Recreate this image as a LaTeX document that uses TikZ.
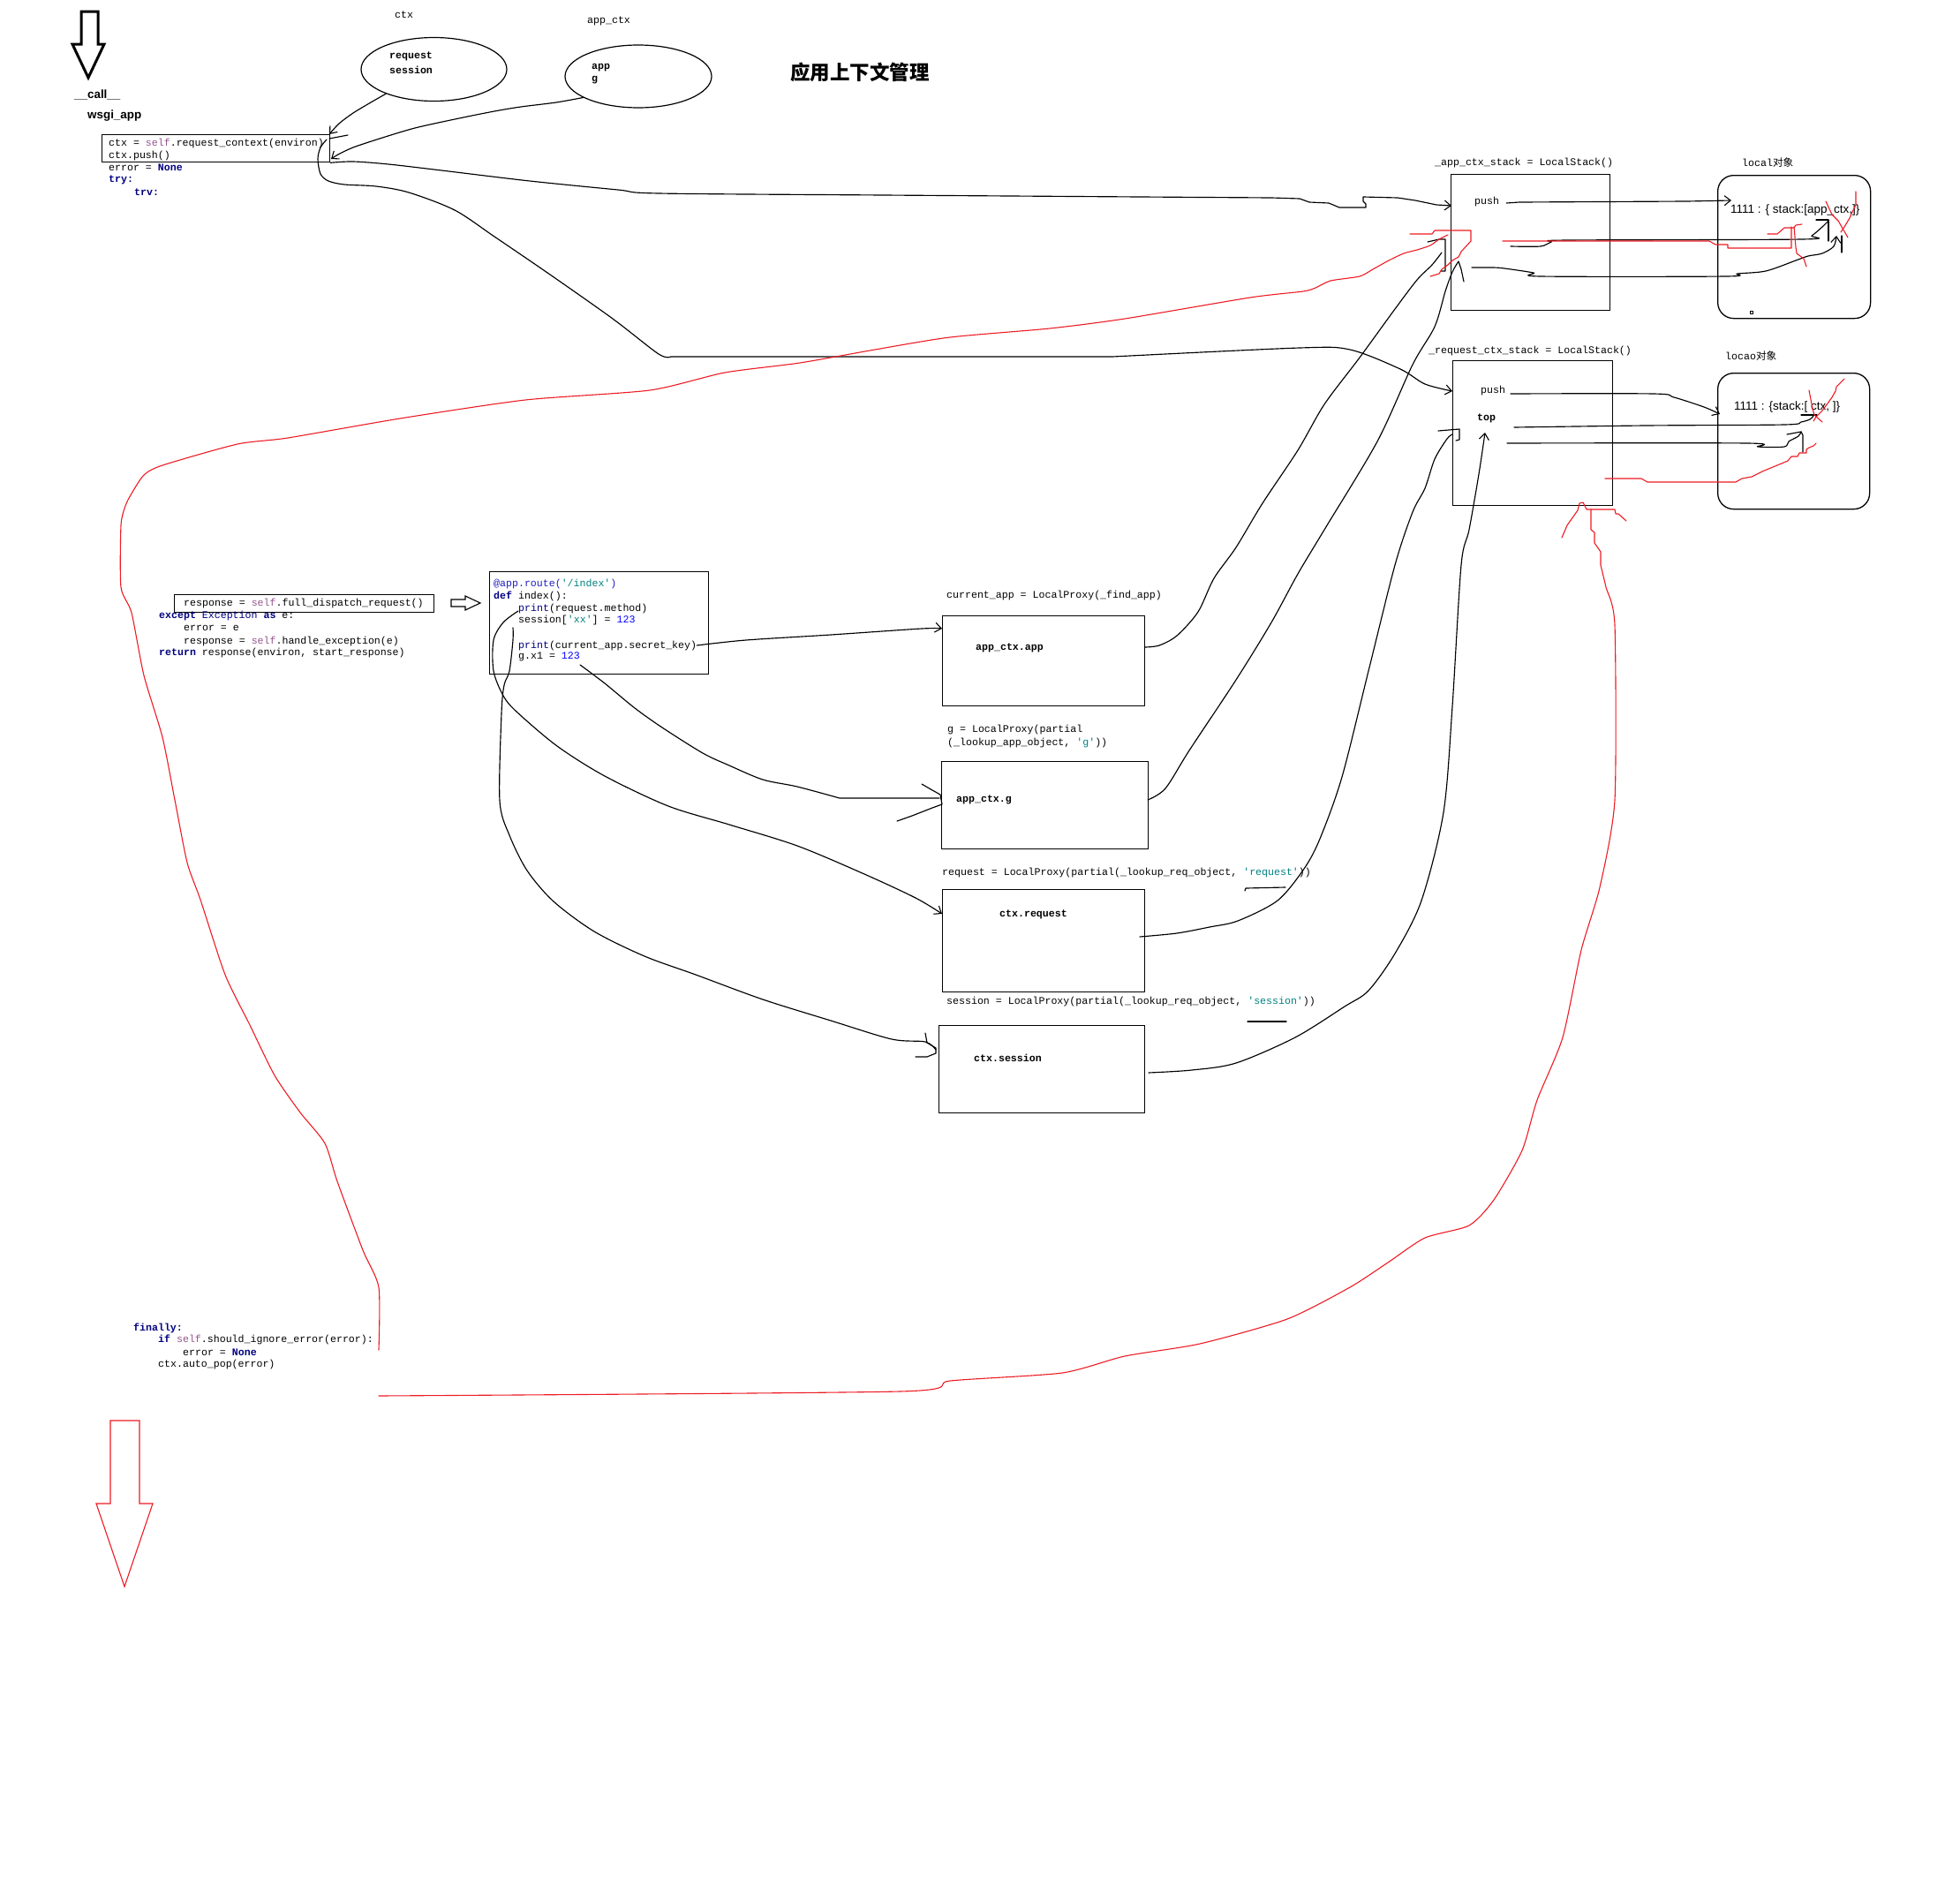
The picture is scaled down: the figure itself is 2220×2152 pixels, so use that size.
\documentclass[tikz,border=0pt]{standalone}
\usepackage{fontspec}
\setmainfont{Liberation Sans}
\setmonofont{Liberation Mono}
\newfontfamily\cjk{Noto Sans CJK SC}
\usetikzlibrary{arrows.meta,shapes.geometric}
\definecolor{kwc}{HTML}{000080}
\definecolor{selfc}{HTML}{94558D}
\definecolor{numc}{HTML}{0000FF}
\definecolor{strc}{HTML}{008080}
\definecolor{decoc}{HTML}{2020C0}
\definecolor{redl}{HTML}{ED1C24}
\newcommand\ckw[1]{\textcolor{kwc}{\bfseries #1}}
\newcommand\cself{\textcolor{selfc}{self}}
\newcommand\cnum[1]{\textcolor{numc}{#1}}
\newcommand\cstr[1]{\textcolor{strc}{#1}}
\newcommand\cprint{\textcolor{kwc}{print}}
\tikzset{
  code/.style={anchor=west, inner sep=0pt, font=\ttfamily\fontsize{11.6}{13}\selectfont},
  bcode/.style={anchor=west, inner sep=0pt, font=\ttfamily\bfseries\fontsize{11.6}{13}\selectfont},
  ssf/.style={anchor=west, inner sep=0pt, font=\fontsize{13.5}{15}\selectfont},
  bsf/.style={anchor=west, inner sep=0pt, font=\bfseries\fontsize{13.4}{15}\selectfont},
  ln/.style={line width=1.15pt, black, line cap=round, line join=round},
  rl/.style={line width=1.1pt, redl, line cap=round, line join=round},
  harrow/.style={-{Straight Barb[length=7pt,width=11pt,line width=1.1pt]}},
  box/.style={draw, line width=1.3pt, inner sep=0pt, anchor=north west},
  oval/.style={draw, ellipse, line width=1.2pt, inner sep=0pt},
}
\begin{document}
\begin{tikzpicture}[x=1pt,y=-1pt]
\useasboundingbox[fill=white] (0,0) rectangle (2220,2152);

% ---------- top-left arrow and labels ----------
\draw[line width=3pt, line join=miter] (92,13) -- (111,13) -- (111,50) -- (118,50) -- (100,88) -- (82,50) -- (92,50) -- cycle;
\node[bsf] (calltxt) at (84,107) {\_\_call\_\_};
\node[bsf] (wsgitxt) at (99,131) {wsgi\_app};

% ---------- wsgi code ----------
\node[box, minimum width=258pt, minimum height=31pt] (wsgibox) at (115,152) {};
\node[code] (w1) at (123,162) {ctx = \cself.request\_context(environ)};
\node[code] (w2) at (123,176) {ctx.push()};
\node[code] (w3) at (123,190) {error = \ckw{None}};
\node[code] (w4) at (123,204) {\ckw{try:}};
\node[code] (w5) at (152,218) {\ckw{trv:}};

% ---------- ellipses ----------
\node[code] (ctxlbl) at (447,17) {ctx};
\node[oval, minimum width=165pt, minimum height=72pt] (ctxell) at (491.5,78.5) {};
\node[bcode] (rs1) at (441,64) {request};
\node[bcode] (rs2) at (441,79) {session};
\node[code] (appctxlbl) at (665,24) {app\_ctx};
\node[oval, minimum width=166pt, minimum height=71pt] (appell) at (723,86.5) {};
\node[bcode] (ag1) at (670,77) {app};
\node[bcode] (ag2) at (670,91) {g};

\node[anchor=west, inner sep=0pt, font=\cjk\bfseries\fontsize{22.5}{24}\selectfont] (title) at (895,82) {应用上下文管理};

% ---------- response code ----------
\node[box, minimum width=294pt, minimum height=20pt] (respbox) at (197,673) {};
\node[code] (r1) at (208,683) {response = \cself.full\_dispatch\_request()};
\node[code] (r2) at (180,697) {\ckw{except} \textcolor{kwc}{Exception} \ckw{as} e:};
\node[code] (r3) at (208,711) {error = e};
\node[code] (r4) at (208,726) {response = \cself.handle\_exception(e)};
\node[code] (r5) at (180,739) {\ckw{return} response(environ, start\_response)};

\draw[line width=1.1pt, line join=miter] (511,679) -- (527,679) -- (527,675) -- (544,683) -- (527,691) -- (527,687) -- (511,687) -- cycle;

% ---------- index code ----------
\node[box, minimum width=248pt, minimum height=116pt] (idxbox) at (554,647) {};
\node[code] (i1) at (559,661) {\textcolor{decoc}{@app.route(}\cstr{'/index'}\textcolor{decoc}{)}};
\node[code] (i2) at (559,675) {\ckw{def} index():};
\node[code] (i3) at (587,689) {\cprint(request.method)};
\node[code] (i4) at (587,702) {session[\cstr{'xx'}] = \cnum{123}};
\node[code] (i5) at (587,731) {\cprint(current\_app.secret\_key)};
\node[code] (i6) at (587,744) {g.x1 = \cnum{123}};

% ---------- finally code ----------
\node[code] (f1) at (151,1504) {\ckw{finally:}};
\node[code] (f2) at (179,1517) {\ckw{if} \cself.should\_ignore\_error(error):};
\node[code] (f3) at (207,1532) {error = \ckw{None}};
\node[code] (f4) at (179,1545) {ctx.auto\_pop(error)};

% ---------- proxies ----------
\node[code] (m1) at (1072,674) {current\_app = LocalProxy(\_find\_app)};
\node[box, minimum width=229pt, minimum height=102pt] (appbox) at (1067,697) {};
\node[bcode] (appt) at (1105,734) {app\_ctx.app};
\node[code] (m2) at (1073,826) {g = LocalProxy(partial};
\node[code] (m3) at (1073,841) {(\_lookup\_app\_object, \cstr{'g'}))};
\node[box, minimum width=234pt, minimum height=99pt] (gbox) at (1066,862) {};
\node[bcode] (gt) at (1083,906) {app\_ctx.g};
\node[code] (m4) at (1067,988) {request = LocalProxy(partial(\_lookup\_req\_object, \cstr{'request'}))};
\node[box, minimum width=229pt, minimum height=116pt] (reqbox) at (1067,1007) {};
\node[bcode] (reqt) at (1132,1036) {ctx.request};
\node[code] (m5) at (1072,1134) {session = LocalProxy(partial(\_lookup\_req\_object, \cstr{'session'}))};
\node[box, minimum width=233pt, minimum height=99pt] (sesbox) at (1063,1161) {};
\node[bcode] (sest) at (1103,1198) {ctx.session};

% ---------- stacks ----------
\node[code] (s1) at (1625,184) {\_app\_ctx\_stack = LocalStack()};
\node[box, minimum width=180pt, minimum height=154pt] (stk1) at (1643,197) {};
\node[code] (p1) at (1670,228) {push};
\node[code] (l1) at (1973,184) {local{\cjk 对象}};
\node[box, rounded corners=18pt, minimum width=173pt, minimum height=162pt] (loc1) at (1945,198) {};
\node[ssf] (t1) at (1960,238) {1111 : \{ stack:[app\_ctx,]\}};
\node[draw, line width=0.8pt, minimum size=3pt, inner sep=0pt] (dot) at (1984,354) {};

\node[code] (s2) at (1618,397) {\_request\_ctx\_stack = LocalStack()};
\node[box, minimum width=181pt, minimum height=164pt] (stk2) at (1645,408) {};
\node[code] (p2) at (1677,442) {push};
\node[bcode] (top) at (1673,474) {top};
\node[code] (l2) at (1954,403) {locao{\cjk 对象}};
\node[box, rounded corners=18pt, minimum width=172pt, minimum height=154pt] (loc2) at (1945,422) {};
\node[ssf] (t2) at (1964,461) {1111 : \{stack:[ ctx, ]\}};

% ---------- black connectors, top ----------
\draw[ln,harrow] plot[smooth] coordinates {(ctxell.207) (420,116) (400,128) (384,140) (373,152)};
\draw[ln] (373,157) -- (394,153);
\draw[ln,harrow] plot[smooth] coordinates {(appell.201) (630,116) (590,121) (560,126) (520,134) (470,145) (430,157) (400,167) (383,175) (375,180)};
\draw[ln,harrow] plot[smooth] coordinates {(wsgibox.south east) (400,183) (440,186) (500,193) (600,205) (700,215) (746,219) (1000,221) (1440,224)}
  -- (1472,225) -- (1483,229) -- (1505,230) -- (1517,235) -- (1547,235) -- (1547,231) -- (1544,228) -- (1544,223) -- (1583,224) -- (1603,227) -- (1627,232) -- (1644,233);
\draw[ln,harrow] plot[smooth] coordinates {(370,158) (363,167) (360,180) (363,197) (372,205) (390,209) (426,211) (463,218) (515,238) (560,268) (623,311) (694,361) (746,401) (760,404)}
  -- plot[smooth] coordinates {(1260,404) (1472,394) (1529,396) (1586,418) (1614,435) (1645,443)};

% ---------- index -> proxies ----------
\draw[ln,harrow] plot[smooth] coordinates {(i5.east) (845,725) (941,719) (1044,712) (1067,712)};
\draw[ln] plot[smooth] coordinates {(657,753) (685,774) (719,802) (750,824) (796,853) (826,867) (864,883) (903,891) (951,904)} -- (1064,904);
\draw[ln] (1044,888) -- (1056,895) -- (1065,900) -- (1067,911) -- (1056,915) -- (1033,924) -- (1016,930);
\draw[ln,harrow] plot[smooth] coordinates {(587,692) (570,705) (559,725) (559,760) (570,788) (585,806) (631,845) (685,879) (757,913) (826,934) (903,958) (979,990) (1037,1017) (1067,1035)};
\draw[ln] plot[smooth] coordinates {(581,711) (581,725) (577,760) (571,776) (568,808) (566,907) (577,946) (597,986) (627,1021) (673,1055) (730,1083) (788,1104) (864,1132) (941,1156) (1010,1177) (1048,1180) (1060,1189)};
\draw[ln] (1048,1170) -- (1050,1181) -- (1060,1187) -- (1060,1193) -- (1050,1197) -- (1037,1197);

% ---------- proxies -> stacks ----------
\draw[ln] plot[smooth] coordinates {(1297,733) (1313,731) (1333,720) (1357,693) (1375,655) (1400,620) (1430,570) (1470,510) (1500,458) (1540,405) (1580,350) (1605,317) (1622,300) (1633,286)};
\draw[ln] (1617,274) -- (1630,271) -- (1637,271) -- (1637,307) -- (1632,307);
\draw[ln] plot[smooth] coordinates {(1300,906) (1320,893) (1347,850) (1400,770) (1440,705) (1470,650) (1500,600) (1560,500) (1600,413) (1625,370) (1637,330) (1645,308) (1652,296)} -- (1655,305) -- (1658,319);
\draw[ln] plot[smooth] coordinates {(1291,1061) (1333,1057) (1370,1050) (1402,1043) (1447,1020) (1477,984) (1495,950) (1520,880) (1550,760) (1580,640) (1600,580) (1614,553) (1625,520) (1639,497) (1645,492)};
\draw[ln] (1629,488) -- (1653,486) -- (1653,498) -- (1649,499);
\draw[ln,harrow] plot[smooth] coordinates {(1301,1215) (1350,1212) (1400,1204) (1467,1175) (1523,1140) (1550,1122) (1580,1080) (1610,1020) (1635,920) (1645,800) (1655,640) (1664,600) (1675,537) (1682,490)};
\draw[ln] (1410,1009) -- (1411,1006) -- (1456,1005);
\draw[ln] (1413,1157) -- (1457,1157);

% ---------- stacks -> local ----------
\draw[ln,harrow] (p1.east) ++(8,2) -- (1721,229) -- (1911,228) -- (1961,227);
\draw[ln] plot[smooth] coordinates {(1711,279) (1745,279) (1757,274) (1775,272) (2041,271) (2052,267) (2064,257) (2071,250)};
\draw[ln] (2057,249) -- (2071,249) -- (2071,273);
\draw[ln,harrow] plot[smooth] coordinates {(1667,303) (1691,303) (1704,304) (1737,309) (1745,313) (1955,313) (1968,310) (2000,307) (2034,295) (2048,290) (2064,287) (2077,279) (2080,267)};
\draw[ln] (2086,267) -- (2086,286);
\draw[ln,harrow] plot[smooth] coordinates {(1711,446) (1873,446) (1896,450) (1930,461) (1948,469)};
\draw[ln] plot[smooth] coordinates {(1715,484) (1864,482) (2021,481) (2040,478) (2050,475) (2054,471)};
\draw[ln] (2040,470) -- (2058,470);
\draw[ln] plot[smooth] coordinates {(1707,502) (1979,502) (1991,506) (2021,506) (2026,500) (2037,494) (2040,489)};
\draw[ln] (2024,492) -- (2040,489) -- (2042,493) -- (2042,512);

% ---------- red lines ----------
\draw[rl] plot[smooth, tension=0.4] coordinates {(1640,266) (1630,271) (1620,278) (1605,283) (1590,287) (1573,295) (1555,305) (1540,313) (1507,318) (1490,326) (1476,330) (1416,337) (1274,361) (1189,372) (1076,382) (991,396) (906,411) (821,422) (736,442) (595,453) (453,474) (326,496) (269,503) (184,527) (163,538) (149,559) (142,573) (137,595) (137,665) (149,694) (163,765) (184,835) (198,906) (212,977) (227,1019) (255,1104) (283,1161) (311,1218) (340,1260) (368,1295) (382,1338) (411,1416) (429,1458) (429,1529)};
\draw[rl] (1597,265) -- (1622,265) -- (1625,261) -- (1666,261) -- (1666,273) -- (1655,285) -- (1652,291) -- (1645,295) -- (1640,300) -- (1633,305) -- (1630,310) -- (1620,313);
\draw[rl] plot[smooth, tension=0.4] coordinates {(429,1581) (1019,1576) (1076,1564) (1203,1555) (1274,1536) (1359,1522) (1458,1494) (1529,1458) (1572,1430) (1614,1402) (1664,1388) (1692,1359) (1724,1303) (1741,1246) (1770,1175) (1791,1076) (1812,1005) (1829,906) (1829,708) (1819,665) (1813,640)} -- (1813,625) -- (1806,615) -- (1806,603) -- (1802,600) -- (1802,577);
\draw[rl] (1769,609) -- (1775,595) -- (1787,578) -- (1789,570) -- (1793,569) -- (1797,577) -- (1829,577) -- (1830,582) -- (1833,582) -- (1842,590);
\draw[rl] (1702,273) -- (1936,273) -- (1943,277) -- (1957,277) -- (1957,281) -- (2029,281) -- (2029,257);
\draw[rl] (2002,265) -- (2013,265) -- (2021,258) -- (2032,258) -- (2034,255) -- (2041,254);
\draw[rl] (2032,257) -- (2034,280) -- (2035,287) -- (2043,293) -- (2046,302);
\draw[rl] (2102,217) -- (2102,232) -- (2098,240) -- (2095,247) -- (2089,257) -- (2085,263);
\draw[rl] (2068,228) -- (2075,243) -- (2082,250) -- (2093,269);
\draw[rl] (1818,542) -- (1859,542) -- (1866,546) -- (1966,546) -- (1973,542) -- (1984,540) -- (1996,534) -- (2025,522) -- (2029,517) -- (2036,517) -- (2038,513) -- (2046,513) -- (2046,509) -- (2049,507) -- (2054,505) -- (2057,502);
\draw[rl] (2049,442) -- (2053,463) -- (2055,470) -- (2064,478);
\draw[rl] (2089,429) -- (2080,438) -- (2079,443) -- (2075,450) -- (2070,457) -- (2064,465) -- (2057,472) -- (2054,477);

% red down arrow
\draw[rl, line join=miter] (125,1609) -- (158,1609) -- (158,1703) -- (173,1703) -- (141,1797) -- (109,1703) -- (125,1703) -- cycle;
\end{tikzpicture}
\end{document}
